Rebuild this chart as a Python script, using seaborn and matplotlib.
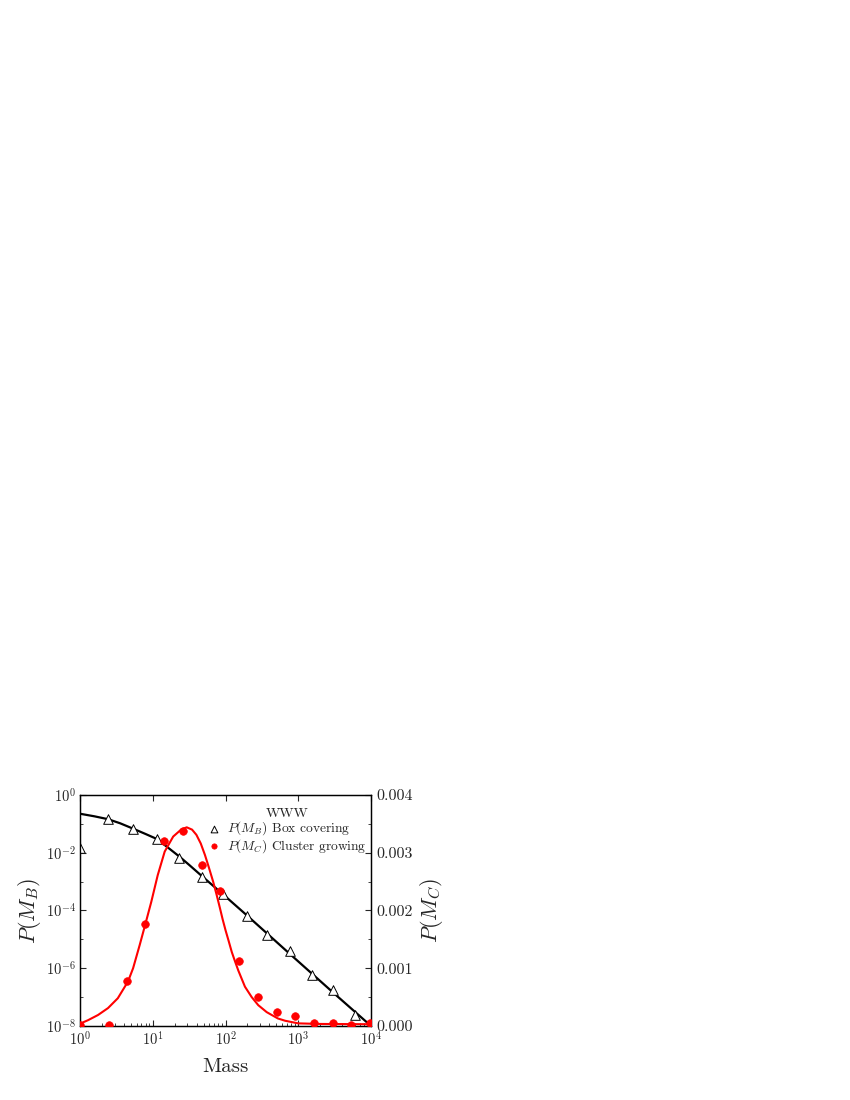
import numpy as np
import pandas as pd
import seaborn as sns
import matplotlib.pyplot as plt
from matplotlib.ticker import FixedLocator, NullFormatter, FuncFormatter

# box covering (left axis, log)
mb_mass = [1, 2.43, 5.4, 11.3, 23.2, 47, 93, 195, 376, 771, 1530, 3030, 6030]
mb_prob = [0.0144, 0.145, 0.066, 0.029, 0.0068, 0.00145, 3.7e-4, 6.2e-5,
           1.44e-5, 4.1e-6, 5.9e-7, 1.8e-7, 2.4e-8]
# fitted curve for box covering
mb_fit_mass = [1, 1.585, 2.43, 3.55, 5.41, 7.94, 11.3, 15.8, 23.7, 31.6, 47,
               93.3, 195, 389, 724, 3162, 10000]
mb_fit_prob = [0.224, 0.182, 0.145, 0.105, 0.0676, 0.0447, 0.0302, 0.0158,
               0.00708, 0.0038, 0.00158, 3.55e-4, 6.9e-5, 1.45e-5, 3.55e-6,
               1.29e-7, 1e-8]

# cluster growing (right axis, linear)
mc_mass = [1, 2.5, 4.47, 7.9, 14.4, 26.3, 48, 84, 155, 282, 505, 910, 1650,
           2960, 5300, 9700]
mc_prob = [0.00001, 0.00001, 0.00078, 0.00177, 0.0032, 0.00338, 0.00278,
           0.00234, 0.00113, 0.00051, 0.00024, 0.00017, 0.00006, 0.00006,
           0.00002, 0.00006]
mc_fit_mass = [1, 1.29, 1.77, 2.43, 3.31, 4.57, 5.37, 6.61, 7.94, 9.55, 11.7,
               14.6, 19.1, 24.5, 29.3, 34.7, 39.8, 45.7, 52.2, 58.9, 67.6,
               75.9, 83.9, 91.2, 100, 110, 122, 135, 150, 185, 229, 282, 368,
               432, 525, 661, 1000, 1995, 10000]
mc_fit_prob = [0.04, 0.1, 0.19, 0.31, 0.48, 0.77, 1.0, 1.4, 1.77, 2.15, 2.61,
               3.02, 3.28, 3.40, 3.44, 3.40, 3.31, 3.16, 2.96, 2.75, 2.50,
               2.26, 2.04, 1.85, 1.66, 1.48, 1.28, 1.12, 0.96, 0.68, 0.50,
               0.36, 0.24, 0.19, 0.13, 0.09, 0.045, 0.035, 0.03]
mc_fit_prob = [v * 1e-3 for v in mc_fit_prob]

sns.set_style('ticks')
plt.rcParams['font.family'] = 'serif'
plt.rcParams['font.serif'] = ['cmr10', 'DejaVu Serif']
plt.rcParams['mathtext.fontset'] = 'cm'
plt.rcParams['axes.unicode_minus'] = False
plt.rcParams['axes.formatter.use_mathtext'] = True
plt.rcParams['xtick.direction'] = 'in'
plt.rcParams['ytick.direction'] = 'in'

fig = plt.figure(figsize=(8.5, 11), dpi=100)
ax = fig.add_axes([0.0941, 0.0673, 0.3424, 0.21])
ax.set_xscale('log')
ax.set_yscale('log')

sns.lineplot(x=mb_fit_mass, y=mb_fit_prob, color='black', linewidth=1.6,
             sort=False, ax=ax)
sns.scatterplot(x=mb_mass, y=mb_prob, marker='^', s=48, color='white',
                edgecolor='black', linewidth=0.7, zorder=3, ax=ax)

ax2 = ax.twinx()
sns.lineplot(x=mc_fit_mass, y=mc_fit_prob, color='red', linewidth=1.5,
             sort=False, ax=ax2)
sns.scatterplot(x=mc_mass, y=mc_prob, marker='o', s=30, color='red',
                edgecolor='red', linewidth=0.5, zorder=3, ax=ax2)

ax.set_xlim(1, 1e4)
ax.set_ylim(1e-8, 1)
ax2.set_ylim(0, 0.004)

ax.set_yticks([1e-8, 1e-6, 1e-4, 1e-2, 1])
ax.yaxis.set_minor_locator(FixedLocator([1e-7, 1e-5, 1e-3, 1e-1]))
ax.yaxis.set_minor_formatter(NullFormatter())
ax2.set_yticks([0, 0.001, 0.002, 0.003, 0.004])
ax2.yaxis.set_minor_locator(FixedLocator([0.0005, 0.0015, 0.0025, 0.0035]))
ax2.yaxis.set_major_formatter(FuncFormatter(lambda v, p: f'{v:.3f}'))

ax.tick_params(axis='x', which='major', top=True, length=4.5, labelsize=10.5)
ax.tick_params(axis='x', which='minor', top=False, length=2.5)
ax.tick_params(axis='y', which='major', length=4.5, labelsize=10.5, pad=3)
ax.tick_params(axis='y', which='minor', length=2.5)
ax2.tick_params(axis='y', which='major', length=4.5, labelsize=11.5)
ax2.tick_params(axis='y', which='minor', length=2.5)

ax.set_xlabel('Mass', fontsize=15, labelpad=7)
ax.set_ylabel(r'$P(M_B)$', fontsize=16, labelpad=2)
ax2.set_ylabel(r'$P(M_C)$', fontsize=16)

for a in (ax, ax2):
    for s in a.spines.values():
        s.set_linewidth(0.9)
        s.set_color('black')

handles = [ax.collections[-1], ax2.collections[-1]]
labels = [r'$P(M_B)$ Box covering', r'$P(M_C)$ Cluster growing']
ax2.legend(handles, labels, title='WWW', loc='upper right',
           bbox_to_anchor=(1.0, 0.96), frameon=False, fontsize=9.7,
           title_fontsize=10, markerscale=0.7, handlelength=1.0,
           handletextpad=0.5, labelspacing=-0.05, borderaxespad=0.1,
           borderpad=0.2)

plt.savefig('out.png', dpi=100)
